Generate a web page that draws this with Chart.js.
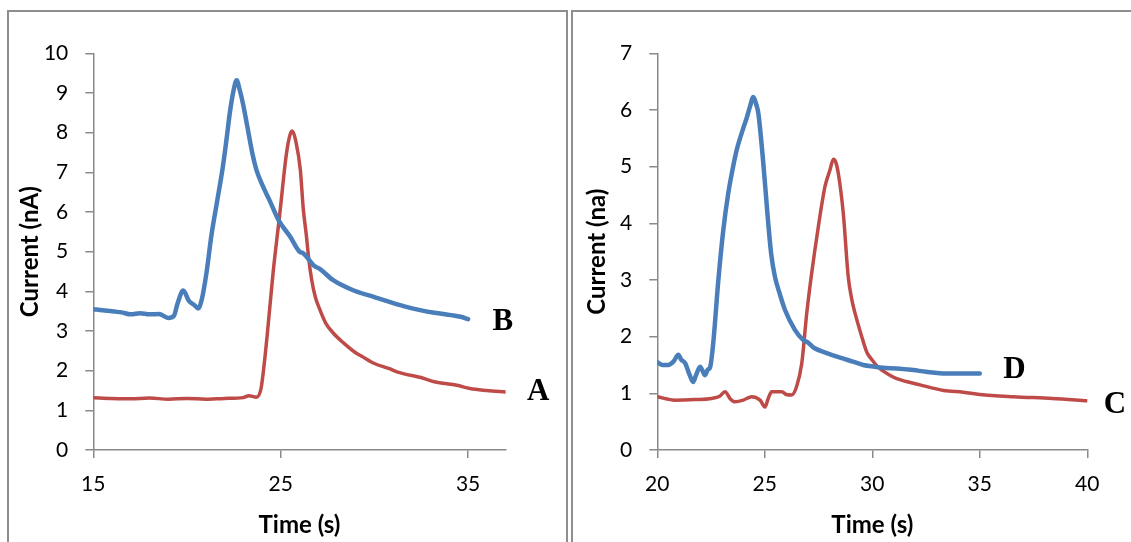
<!DOCTYPE html>
<html><head><meta charset="utf-8">
<script src="https://cdn.jsdelivr.net/npm/chart.js@4.4.1/dist/chart.umd.min.js"></script>
<style>
html,body{margin:0;padding:0;background:#fff;}
#wrap{position:relative;width:1131px;height:542px;overflow:hidden;background:#fff;}
.frame{position:absolute;box-sizing:border-box;border:2px solid #8e8e8e;border-bottom:none;}
#f1{left:7px;top:10px;width:561px;height:600px;}
#f2{left:571px;top:10px;width:600px;height:600px;}
.pane{position:absolute;top:0;height:542px;}
#p1{left:0;width:567px;}
#p2{left:567px;width:564px;}
</style></head>
<body><div id="wrap">
<div class="frame" id="f1"></div><div class="frame" id="f2"></div>
<div class="pane" id="p1"><canvas id="c1"></canvas></div>
<div class="pane" id="p2"><canvas id="c2"></canvas></div>
</div>
<script>
// ---- Left panel data ----
const timeB = [15.0,15.5,16.0,16.5,17.0,17.5,18.0,18.5,19.0,19.3,19.5,19.8,20.1,20.4,20.6,20.8,21.05,21.3,21.6,21.9,22.1,22.3,22.5,22.65,22.8,23.0,23.2,23.5,23.7,24.0,24.4,24.9,25.5,26.0,26.2,26.8,27.1,27.8,28.9,29.9,30.3,31.6,32.5,33.2,34.1,34.6,35.0];
const currentB = [3.55,3.52,3.50,3.47,3.42,3.45,3.42,3.43,3.33,3.38,3.70,4.02,3.76,3.65,3.57,3.82,4.50,5.40,6.25,7.10,7.80,8.55,9.10,9.32,9.10,8.70,8.20,7.45,7.07,6.70,6.30,5.78,5.38,5.00,4.96,4.64,4.56,4.28,4.02,3.87,3.81,3.62,3.52,3.46,3.40,3.36,3.30];
const timeA = [15.0,16.0,17.0,18.0,19.0,20.0,21.0,22.0,23.0,23.3,23.7,23.95,24.15,24.3,24.6,24.95,25.3,25.5,25.62,25.8,26.05,26.2,26.37,26.5,26.65,26.85,27.08,27.4,27.8,28.35,29.0,29.3,30.0,30.8,31.2,32.6,33.2,34.4,35.1,36.0,37.0];
const currentA = [1.32,1.30,1.29,1.31,1.28,1.30,1.28,1.30,1.32,1.37,1.33,1.55,2.30,3.00,4.50,5.95,7.45,7.95,8.04,7.80,7.05,6.10,5.40,4.80,4.30,3.85,3.55,3.20,2.95,2.70,2.45,2.37,2.18,2.05,1.97,1.81,1.72,1.63,1.55,1.50,1.46];
const leftXTicks = [15,25,35];
const leftYTicks = [0,1,2,3,4,5,6,7,8,9,10];

// ---- Right panel data ----
const timeD = [20.0,20.25,20.5,20.75,20.98,21.1,21.3,21.5,21.67,21.8,21.99,22.1,22.22,22.35,22.45,22.6,22.84,23.07,23.3,23.5,23.69,24.0,24.15,24.31,24.47,24.6,24.7,24.93,25.16,25.3,25.47,25.7,25.94,26.4,26.79,27.0,27.3,27.88,28.58,29.1,29.58,30.1,30.5,31.14,31.91,32.5,33.46,34.2,35.0];
const currentD = [1.55,1.50,1.50,1.56,1.68,1.60,1.53,1.33,1.20,1.32,1.47,1.40,1.32,1.42,1.45,1.88,3.00,3.88,4.53,4.95,5.29,5.68,5.85,6.06,6.23,6.10,5.94,5.06,4.00,3.45,3.06,2.75,2.47,2.12,1.94,1.90,1.80,1.71,1.62,1.56,1.50,1.47,1.45,1.44,1.41,1.38,1.35,1.35,1.35];
const timeC = [20.0,20.82,21.75,22.53,22.9,23.15,23.4,23.61,24.0,24.39,24.78,25.01,25.15,25.32,25.79,26.0,26.25,26.48,26.72,26.95,27.18,27.49,27.8,28.03,28.19,28.3,28.42,28.65,28.88,29.05,29.2,29.51,29.75,29.97,30.3,30.82,31.14,32.22,33.32,34.23,35.0,36.56,38.37,40.0];
const currentC = [0.94,0.88,0.89,0.91,0.95,1.03,0.90,0.85,0.88,0.94,0.88,0.76,0.90,1.03,1.03,0.98,0.97,1.12,1.53,2.41,3.12,3.94,4.65,4.94,5.13,5.08,4.88,4.18,3.06,2.65,2.41,2.00,1.72,1.60,1.45,1.32,1.26,1.15,1.05,1.02,0.98,0.94,0.91,0.87];
const rightXTicks = [20,25,30,35,40];
const rightYTicks = [0,1,2,3,4,5,6,7];

const BLUE = '#4A7EBB', RED = '#BE4B48', AXIS = '#8a8a8a';

const endLabels = {
  id: 'endLabels',
  afterDatasetsDraw(chart, args, opts) {
    const ctx = chart.ctx;
    ctx.save();
    ctx.font = 'bold 31px "Liberation Serif", "Times New Roman", serif';
    ctx.fillStyle = '#000';
    ctx.textAlign = 'center';
    ctx.textBaseline = 'middle';
    chart.data.datasets.forEach((ds, i) => {
      const meta = chart.getDatasetMeta(i);
      const last = meta.data[meta.data.length - 1];
      const off = opts.offsets[i];
      ctx.fillText(ds.label, last.x + off[0], last.y + off[1]);
    });
    ctx.restore();
  }
};

function makeChart(id, cfg) {
  return new Chart(document.getElementById(id), {
    type: 'line',
    data: {
      datasets: cfg.series.map(s => ({
        label: s.name,
        data: s.t.map((t, i) => ({x: t, y: s.c[i]})),
        borderColor: s.color,
        borderWidth: s.width,
        pointRadius: 0,
        cubicInterpolationMode: 'monotone',
        borderJoinStyle: 'round',
        borderCapStyle: 'round',
        fill: false
      }))
    },
    options: {
      animation: false,
      responsive: true,
      maintainAspectRatio: false,
      layout: {padding: {left: 0, top: 53.3, right: cfg.padRight, bottom: 0}},
      plugins: {
        legend: {display: false},
        tooltip: {enabled: false},
        endLabels: {offsets: cfg.offsets}
      },
      scales: {
        x: {
          type: 'linear', min: cfg.xMin, max: cfg.xMax,
          afterBuildTicks: s => { s.ticks = cfg.xTicks.map(v => ({value: v})); },
          afterFit: s => { s.height = 92; },
          grid: {display: true, drawOnChartArea: false, drawTicks: true, tickLength: 8, color: AXIS, lineWidth: 1.5},
          border: {display: true, color: AXIS, width: 1.5},
          ticks: {color: '#000', font: {family: 'Lato', size: 21}, padding: 14, maxRotation: 0, autoSkip: false},
          title: {display: true, text: 'Time (s)', color: '#000', font: {family: 'Lato', size: 24, weight: 'bold'}, padding: {top: 0, bottom: 2}}
        },
        y: {
          type: 'linear', min: cfg.yMin, max: cfg.yMax,
          afterBuildTicks: s => { s.ticks = cfg.yTicks.map(v => ({value: v})); },
          afterFit: s => { s.width = cfg.yWidth; },
          grid: {display: true, drawOnChartArea: false, drawTicks: true, tickLength: 8, color: AXIS, lineWidth: 1.5},
          border: {display: true, color: AXIS, width: 1.5},
          ticks: {color: '#000', font: {family: 'Lato', size: 21}, padding: 17, autoSkip: false},
          title: {display: true, text: cfg.yTitle, color: '#000', font: {family: 'Lato', size: 24, weight: 'bold'}, padding: {top: 16, bottom: 0}}
        }
      }
    },
    plugins: [endLabels]
  });
}

makeChart('c1', {
  series: [
    {name: 'B', t: timeB, c: currentB, color: BLUE, width: 4.5},
    {name: 'A', t: timeA, c: currentA, color: RED, width: 3.5}
  ],
  offsets: [[34.6, 2.5], [32.7, -0.5]],
  xMin: 15, xMax: 37, yMin: 0, yMax: 10,
  xTicks: leftXTicks, yTicks: leftYTicks,
  yWidth: 93.3, padRight: 61.4,
  yTitle: 'Current (nA)'
});

makeChart('c2', {
  series: [
    {name: 'D', t: timeD, c: currentD, color: BLUE, width: 4.5},
    {name: 'C', t: timeC, c: currentC, color: RED, width: 3.5}
  ],
  offsets: [[34.7, -3.5], [27.7, 4.3]],
  xMin: 20, xMax: 40, yMin: 0, yMax: 7,
  xTicks: rightXTicks, yTicks: rightYTicks,
  yWidth: 90.3, padRight: 43.7,
  yTitle: 'Current (na)'
});
</script>
</body></html>
